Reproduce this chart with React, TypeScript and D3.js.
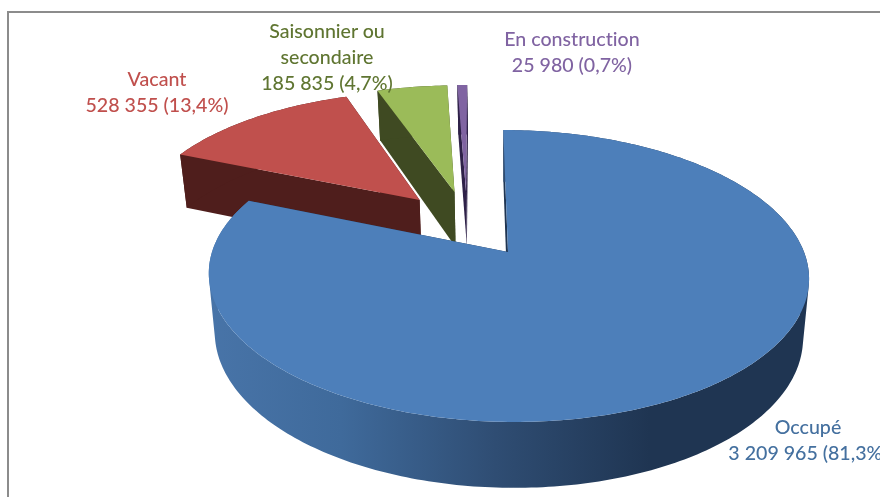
import React from "react";
import * as d3 from "d3";

const categories = ["Occupé", "Vacant", "Saisonnier ou secondaire", "En construction"];
const values = [3209965, 528355, 185835, 25980];
const topColors = ["#4d7fba", "#c0504d", "#9bbb59", "#8064a2"];
const wallColors = ["#1f3552", "#4f1e1c", "#3f4a22", "#2e2148"];
const labelColors = ["#44709f", "#c0504d", "#5f7530", "#8064a2"];
const labelLines = [
  ["Occupé", "3 209 965 (81,3%)"],
  ["Vacant", "528 355 (13,4%)"],
  ["Saisonnier ou", "secondaire", "185 835 (4,7%)"],
  ["En construction", "25 980 (0,7%)"],
];
const labelPos = [
  [808, 428],
  [157, 80],
  [327, 32],
  [572, 40],
];

const W = 880, H = 497;
// projective view of the pie plane
const ox = 508, oy = 252, ax = 296, by = 142, k = 0.1645, shear = -5.5;
const explode = 0.25, depth = 58, kDepth = 0.12, vx = 509, xShrink = 0.98;

type Pt = { X: number; Y: number };
const top = (p: Pt): [number, number] => {
  const d = 1 + k * p.Y;
  return [ox + (ax * p.X + shear * p.Y) / d, oy - (by * p.Y) / d];
};
const bottom = (p: Pt): [number, number] => {
  const [x, y] = top(p);
  return [vx + (x - vx) * xShrink, y + depth / (1 + kDepth * p.Y)];
};

const arcs = d3.pie<number>().sort(null).startAngle(0).endAngle(2 * Math.PI)(values);
const dir = (t: number) => ({ X: Math.sin(t), Y: Math.cos(t) });
const mid = (i: number) => (arcs[i].startAngle + arcs[i].endAngle) / 2;
const origin = dir(mid(0));
const line = d3.line();

function sliceGeom(i: number) {
  const m = dir(mid(i));
  const apex: Pt = {
    X: explode * (m.X - origin.X),
    Y: explode * (m.Y - origin.Y),
  };
  const a0 = arcs[i].startAngle, a1 = arcs[i].endAngle;
  const n = Math.max(4, Math.ceil((a1 - a0) * 60));
  const rim: Pt[] = d3.range(n + 1).map((j) => {
    const d = dir(a0 + ((a1 - a0) * j) / n);
    return { X: apex.X + d.X, Y: apex.Y + d.Y };
  });
  const close = (pts: [number, number][]) => line(pts) + "Z";
  // the outer wall as a union of same-winding quads, so its silhouette has no notch
  const outer = d3
    .range(n)
    .map((j) => {
      const hull = d3.polygonHull([top(rim[j]), top(rim[j + 1]), bottom(rim[j + 1]), bottom(rim[j])]);
      return hull ? close(hull as [number, number][]) : "";
    })
    .join("");
  return {
    top: close([top(apex), ...rim.map(top)]),
    outer,
    wallA: close([top(apex), top(rim[0]), bottom(rim[0]), bottom(apex)]),
    wallB: close([top(apex), top(rim[n]), bottom(rim[n]), bottom(apex)]),
  };
}

const drawOrder = [1, 2, 3, 0];

export default function App() {
  return (
    <svg
      width={W}
      height={H}
      viewBox={`0 0 ${W} ${H}`}
      style={{ position: "absolute", left: 0, top: 0, background: "#fff" }}
    >
      <defs>
        <linearGradient id="blueWall" gradientUnits="userSpaceOnUse" x1={209} x2={650} y1={0} y2={0}>
          <stop offset="0" stopColor="#4874a8" />
          <stop offset="0.3" stopColor="#3f6a9b" />
          <stop offset="0.65" stopColor="#2f4d73" />
          <stop offset="1" stopColor="#1f3552" />
        </linearGradient>
        <filter id="soft" x="-5%" y="-5%" width="110%" height="110%">
          <feGaussianBlur stdDeviation="0.45" />
        </filter>
      </defs>
      <line x1={8} y1={497} x2={8} y2={12} stroke="#8c8c8c" strokeWidth={2} />
      <line x1={7} y1={12} x2={880} y2={12} stroke="#8c8c8c" strokeWidth={2} />
      {drawOrder.map((i) => {
        const g = sliceGeom(i);
        return (
          <g key={categories[i]}>
            <path d={g.wallB} fill={wallColors[i]} />
            <path d={g.wallA} fill={wallColors[i]} />
            <path d={g.outer} fill={i === 0 ? "url(#blueWall)" : wallColors[i]} />
            <path d={g.top} fill={topColors[i]} />
          </g>
        );
      })}
      <g filter="url(#soft)">
        {labelLines.map((ls, i) =>
          ls.map((t, j) => (
            <text
              key={t}
              x={labelPos[i][0]}
              y={labelPos[i][1] + j * 26 + 6}
              textAnchor="middle"
              fontFamily="Lato, 'Open Sans', sans-serif"
              fontSize={19.6}
              fontWeight={500}
              fill={labelColors[i]}
              style={{ fontVariantLigatures: "none" }}
            >
              {t}
            </text>
          ))
        )}
      </g>
    </svg>
  );
}
